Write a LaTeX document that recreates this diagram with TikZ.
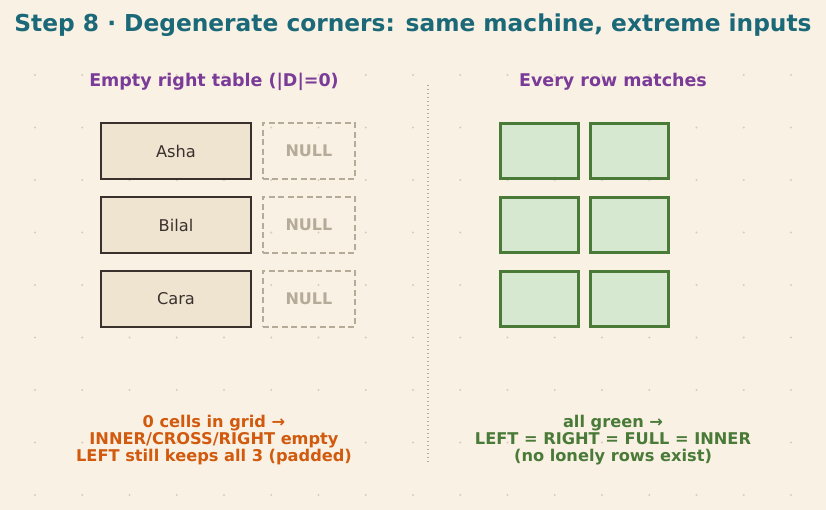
\documentclass[tikz,border=0pt]{standalone}
\usepackage{fontspec}
\setmainfont{DejaVu Sans}
\usetikzlibrary{positioning}
\definecolor{paper}{HTML}{F9F1E3}
\definecolor{griddot}{HTML}{D8CDBA}
\definecolor{titleteal}{HTML}{1B6878}
\definecolor{headplum}{HTML}{7B3B98}
\definecolor{inkbrown}{HTML}{3A302C}
\definecolor{namefill}{HTML}{EFE4D0}
\definecolor{nullgray}{HTML}{B6AB99}
\definecolor{leafgreen}{HTML}{4A7A38}
\definecolor{leaffill}{HTML}{D6E8D0}
\definecolor{burnt}{HTML}{D15A0E}
\tikzset{
  namecell/.style={
    % The shape:
    rectangle,
    % The size:
    minimum width=150pt,minimum height=56pt,
    % The border:
    line width=2.2pt,
    draw=inkbrown,
    % The filling:
    fill=namefill,
    text=inkbrown,font=\fontsize{16.2}{19}\selectfont},
  nullcell/.style={
    % The shape:
    rectangle,
    minimum width=92pt,minimum height=56pt,
    % The rest
    line width=1.6pt,dash pattern=on 6pt off 3.5pt,draw=nullgray,
    text=nullgray,font=\fontsize{16}{19}\selectfont\bfseries},
  matchcell/.style={
    % The shape:
    rectangle,
    minimum width=78pt,minimum height=55pt,
    % The rest
    line width=3pt,draw=leafgreen,fill=leaffill},
  heading/.style={text=headplum,font=\fontsize{17.5}{20}\selectfont\bfseries},
  verdict/.style={align=center,font=\fontsize{16.2}{17}\selectfont\bfseries}
}

\begin{document}
\begin{tikzpicture}[x=1pt,y=-1pt,
                    divider/.style={draw=nullgray,line width=1.2pt,dash pattern=on 1.2pt off 2.8pt}]
  \useasboundingbox[fill=paper] (0,0) rectangle (826,510);
  % dot grid behind everything
  \foreach \i in {0,...,16}
    \foreach \j in {0,...,8}
      \fill[griddot] (35+47.25*\i,75+52.5*\j) circle (1.1pt);

  \node (title) [text=titleteal,font=\fontsize{23.3}{26}\selectfont\bfseries] at (413,25)
    {Step 8 · Degenerate corners: same machine, extreme inputs};

  % left: empty right table
  \node (lefthead) [heading] at (214,81.5) {Empty right table (|D|=0)};
  \node (asha) [namecell] at (176,151) {Asha};
  \node (bilal) [namecell] at (176,225) {Bilal};
  \node (cara) [namecell] at (176,299) {Cara};
  \node (nulla) [nullcell,right=10pt of asha] {NULL};
  \node (nullb) [nullcell,right=10pt of bilal] {NULL};
  \node (nullc) [nullcell,right=10pt of cara] {NULL};
  \node (leftnote) [verdict,text=burnt] at (214,440)
    {0 cells in grid →\\INNER/CROSS/RIGHT empty\\LEFT still keeps all 3 (padded)};

  % divider
  \coordinate (divtop) at (428,85);
  \coordinate (divbot) at (428,463);
  \draw[divider] (divtop) -- (divbot);

  % right: every row matches
  \node (righthead) [heading] at (613,81.5) {Every row matches};
  \node (ga) [matchcell] at (539.5,151) {};
  \node (gb) [matchcell] at (539.5,225) {};
  \node (gc) [matchcell] at (539.5,299) {};
  \node (ha) [matchcell,right=9pt of ga] {};
  \node (hb) [matchcell,right=9pt of gb] {};
  \node (hc) [matchcell,right=9pt of gc] {};
  \node (rightnote) [verdict,text=leafgreen] at (613,440)
    {all green →\\LEFT = RIGHT = FULL = INNER\\(no lonely rows exist)};
\end{tikzpicture}
\end{document}
